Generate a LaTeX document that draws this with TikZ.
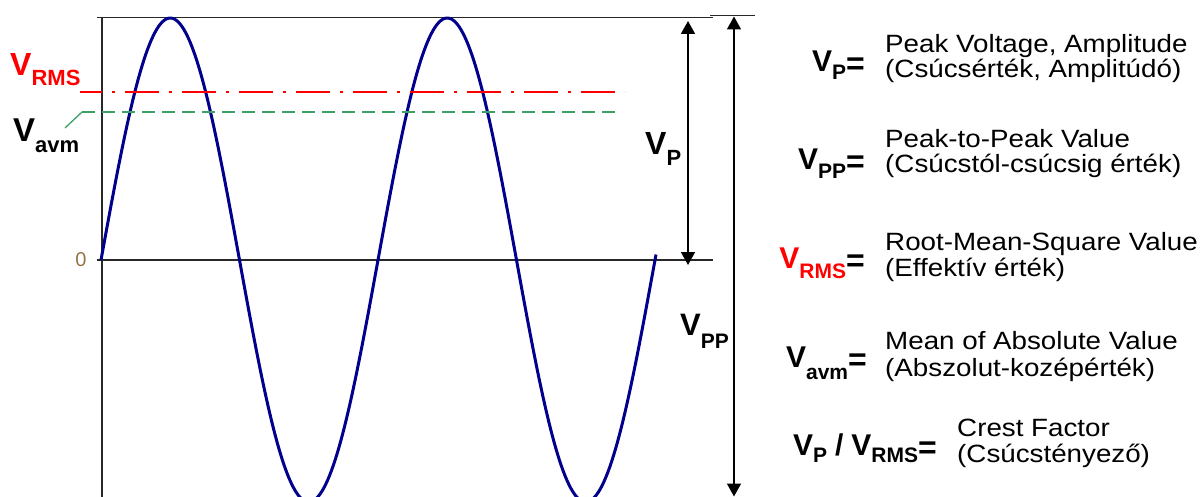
\documentclass[tikz,border=0pt]{standalone}
\usepackage{fontspec}
\setmainfont{Liberation Sans}
\usetikzlibrary{arrows.meta}
\definecolor{wave}{RGB}{0,0,140}
\definecolor{avmgreen}{RGB}{60,160,100}
\definecolor{axisgray}{RGB}{40,40,40}
\definecolor{zerocol}{RGB}{150,115,70}
\newcommand{\VL}[4]{{\fontsize{#1}{#1}\selectfont V}\raisebox{-#3pt}{\fontsize{#2}{#2}\selectfont #4}}
\newcommand{\eqs}{\raisebox{-3pt}{\fontsize{32}{32}\selectfont =}}
\begin{document}
\begin{tikzpicture}[x=1pt,y=-1pt,
  axisline/.style={draw=axisgray,line width=1.8pt},
  dimarrow/.style={line width=1.6pt,{Triangle[length=13pt,width=14pt]}-{Triangle[length=13pt,width=14pt]}},
  lbl/.style={inner sep=0pt,font=\bfseries},
  desc/.style={inner sep=0pt,anchor=base west,xscale=1.11,font=\fontsize{25}{26}\selectfont},
  ]
\useasboundingbox (0,0) rectangle (1204,497);
\begin{scope}
\clip (0,0) rectangle (1204,497);
% axes
\coordinate (axtop) at (102,17.5);
\coordinate (axbot) at (102,497);
\coordinate (tl) at (97,17.5);
\coordinate (tr) at (713,17.5);
\coordinate (sl) at (710,15.5);
\coordinate (sr) at (755,15.5);
\coordinate (zl) at (97,260);
\coordinate (zr) at (713,260);
\draw[axisline] (axtop) -- (axbot);
\draw[axisline] (tl) -- (tr);
\draw[draw=axisgray,line width=1.5pt] (sl) -- (sr);
\draw[axisline] (zl) -- (zr);
% sine
\draw[wave,line width=3pt,line join=round] plot[variable=\t,domain=0:555,samples=300] ({101+\t},{260-242*sin(1.299639*\t)});
% RMS and avm lines
\coordinate (rmsL) at (80,92);
\coordinate (rmsR) at (625,92);
\draw[red,line width=2pt,dash pattern=on 34pt off 10pt on 3pt off 10pt,dash phase=12pt] (rmsL) -- (rmsR);
\coordinate (avmL) at (82,112);
\coordinate (avmR) at (618,112);
\coordinate (avmLead) at (65,128);
\draw[avmgreen,line width=1.3pt] (avmLead) -- (avmL);
\draw[avmgreen,line width=1.3pt,dash pattern=on 13pt off 7pt] (avmL) -- (avmR);
% dimension arrows
\coordinate (vpT) at (688,21);
\coordinate (vpB) at (688,265);
\draw[dimarrow] (vpT) -- (vpB);
\coordinate (vppT) at (734,16.5);
\coordinate (vppB) at (734,496.5);
\draw[dimarrow] (vppT) -- (vppB);
\end{scope}
% left labels
\node[lbl,text=red,anchor=base west] (lrms) at (10,76) {\VL{32}{22}{10}{RMS}};
\node[lbl,anchor=base west] (lavm) at (13,142) {\VL{33}{22}{11}{avm}};
\node[text=zerocol,font=\fontsize{20}{20}\selectfont,inner sep=0pt] (zero) at (81,260) {0};
\node[lbl,anchor=base west] (lvp) at (645,155) {\VL{32}{22}{11}{P}};
\node[lbl,anchor=base west] (lvpp) at (680,335) {\VL{31}{21}{13}{PP}};
% legend
\node[lbl,anchor=base east] (k1) at (865,72) {\VL{30}{21}{8}{P}\eqs};
\node[desc] (d1a) at (885,53) {Peak Voltage, Amplitude};
\node[desc] (d1b) at (885,78) {(Csúcsérték, Amplitúdó)};
\node[lbl,anchor=base east] (k2) at (865,170) {\VL{30}{21}{9}{PP}\eqs};
\node[desc] (d2a) at (885,148) {Peak-to-Peak Value};
\node[desc] (d2b) at (885,173) {(Csúcstól-csúcsig érték)};
\node[lbl,anchor=base east] (k3) at (865,268) {\textcolor{red}{\VL{30}{21}{10}{RMS}}\eqs};
\node[desc] (d3a) at (885,250) {Root-Mean-Square Value};
\node[desc] (d3b) at (885,276) {(Effektív érték)};
\node[lbl,anchor=base east] (k4) at (867,367) {\VL{30}{21}{12}{avm}\eqs};
\node[desc] (d4a) at (885,349) {Mean of Absolute Value};
\node[desc] (d4b) at (885,376) {(Abszolut-kozépérték)};
\node[lbl,anchor=base east] (k5) at (937,455) {\VL{30}{21}{7}{P}\hspace{8pt}{\fontsize{30}{30}\selectfont /}\hspace{8pt}\VL{30}{21}{7}{RMS}\eqs};
\node[desc] (d5a) at (957,436) {Crest Factor};
\node[desc] (d5b) at (957,462) {(Csúcstényező)};
\end{tikzpicture}
\end{document}
